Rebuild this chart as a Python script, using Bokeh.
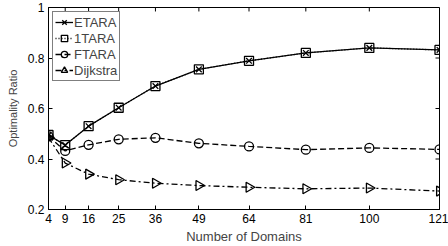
import math
from bokeh.plotting import figure
from bokeh.models import FixedTicker, Range1d
from bokeh.embed import file_html
from bokeh.resources import INLINE

domains = [4, 9, 16, 25, 36, 49, 64, 81, 100, 121]
etara = [0.495, 0.455, 0.530, 0.603, 0.689, 0.755, 0.789, 0.820, 0.840, 0.832]
tara1 = [0.495, 0.455, 0.530, 0.603, 0.689, 0.755, 0.789, 0.820, 0.840, 0.832]
ftara = [0.490, 0.432, 0.456, 0.478, 0.484, 0.462, 0.450, 0.437, 0.444, 0.438]
dijkstra = [0.485, 0.384, 0.340, 0.318, 0.304, 0.295, 0.288, 0.282, 0.285, 0.273]
y_ticks = [0.2, 0.4, 0.6, 0.8, 1.0]
y_tick_labels = ["0.2", "0.4", "0.6", "0.8", "1"]

FONT = "Liberation Sans"
X0, X1 = domains[0], domains[-1]
Y0, Y1 = y_ticks[0], y_ticks[-1]
W, H = 448, 246
BL, BR, BT, BB = 48, 9, 7, 36
TICK_PX = 4

p = figure(width=W, height=H, output_backend="svg", toolbar_location=None,
           x_range=Range1d(X0, X1), y_range=Range1d(Y0, Y1))
p.min_border_left = BL
p.min_border_right = BR
p.min_border_top = BT
p.min_border_bottom = BB
p.outline_line_color = "black"
p.outline_line_width = 1
p.xgrid.visible = False
p.ygrid.visible = False
p.background_fill_color = "white"
p.border_fill_color = "white"

def style_axis(ax, ticker):
    ax.ticker = ticker
    ax.major_tick_in = TICK_PX
    ax.major_tick_out = 0
    ax.minor_tick_in = 0
    ax.minor_tick_out = 0
    ax.axis_line_color = "black"
    ax.axis_line_width = 1
    ax.major_tick_line_color = "black"
    ax.major_label_text_font = FONT
    ax.major_label_text_color = "black"
    ax.major_label_text_font_size = "12px"
    ax.major_label_standoff = 4

style_axis(p.xaxis[0], FixedTicker(ticks=domains))
style_axis(p.yaxis[0], FixedTicker(ticks=y_ticks))
p.xaxis[0].major_label_overrides = {d: str(d) for d in domains}
p.yaxis[0].major_label_overrides = dict(zip(y_ticks, y_tick_labels))
p.xaxis[0].axis_label = "Number of Domains"
p.xaxis[0].axis_label_text_font = FONT
p.xaxis[0].axis_label_text_font_size = "13px"
p.xaxis[0].axis_label_text_font_style = "normal"
p.xaxis[0].axis_label_standoff = 3
p.yaxis[0].axis_label = "Optimality Ratio"
p.yaxis[0].axis_label_text_font = FONT
p.yaxis[0].axis_label_text_font_size = "11px"
p.yaxis[0].axis_label_text_font_style = "normal"
p.yaxis[0].axis_label_standoff = 6

# inward ticks on the top and right edges of the box
dy = TICK_PX * (Y1 - Y0) / (H - BT - BB)
dx = TICK_PX * (X1 - X0) / (W - BL - BR)
p.segment(x0=domains, y0=[Y1] * len(domains), x1=domains, y1=[Y1 - dy] * len(domains),
          line_color="black", line_width=1)
p.segment(x0=[X1] * len(y_ticks), y0=y_ticks, x1=[X1 - dx] * len(y_ticks), y1=y_ticks,
          line_color="black", line_width=1)

lw = 1.3
# ETARA: solid with x markers
p.line(domains, etara, line_color="black", line_width=lw, legend_label="ETARA")
p.scatter(domains, etara, marker="x", size=8, line_color="black", line_width=lw, legend_label="ETARA")
# 1TARA: dotted with squares
p.line(domains, tara1, line_color="black", line_width=lw, line_dash="1 2", legend_label="1TARA")
p.scatter(domains, tara1, marker="square", size=9, line_color="black", fill_color=None, line_width=lw, legend_label="1TARA")
# FTARA: dashed with circles
p.line(domains, ftara, line_color="black", line_width=lw, line_dash="6 3", legend_label="FTARA")
p.scatter(domains, ftara, marker="circle", size=9, line_color="black", fill_color=None, line_width=lw, legend_label="FTARA")
# Dijkstra: dash-dot with right-pointing triangles
p.line(domains, dijkstra, line_color="black", line_width=lw, line_dash="6 3 2 3", legend_label="Dijkstra")
p.scatter(domains, dijkstra, marker="triangle", angle=-math.pi / 2, size=10, line_color="black", fill_color=None, line_width=lw, legend_label="Dijkstra")

lg = p.legend[0]
lg.location = "top_left"
lg.margin = 4
lg.padding = 2
lg.spacing = 0
lg.glyph_width = 18
lg.glyph_height = 16
lg.label_height = 16
lg.label_width = 10
lg.label_standoff = 1
lg.label_text_font = FONT
lg.label_text_font_size = "13px"
lg.border_line_color = "black"
lg.border_line_width = 1
lg.background_fill_color = "white"
lg.background_fill_alpha = 1.0

html = file_html(p, INLINE)
html = html.replace("<head>", "<head><style>html,body{margin:0;padding:0;}</style>", 1)
open("out.html", "w").write(html)
